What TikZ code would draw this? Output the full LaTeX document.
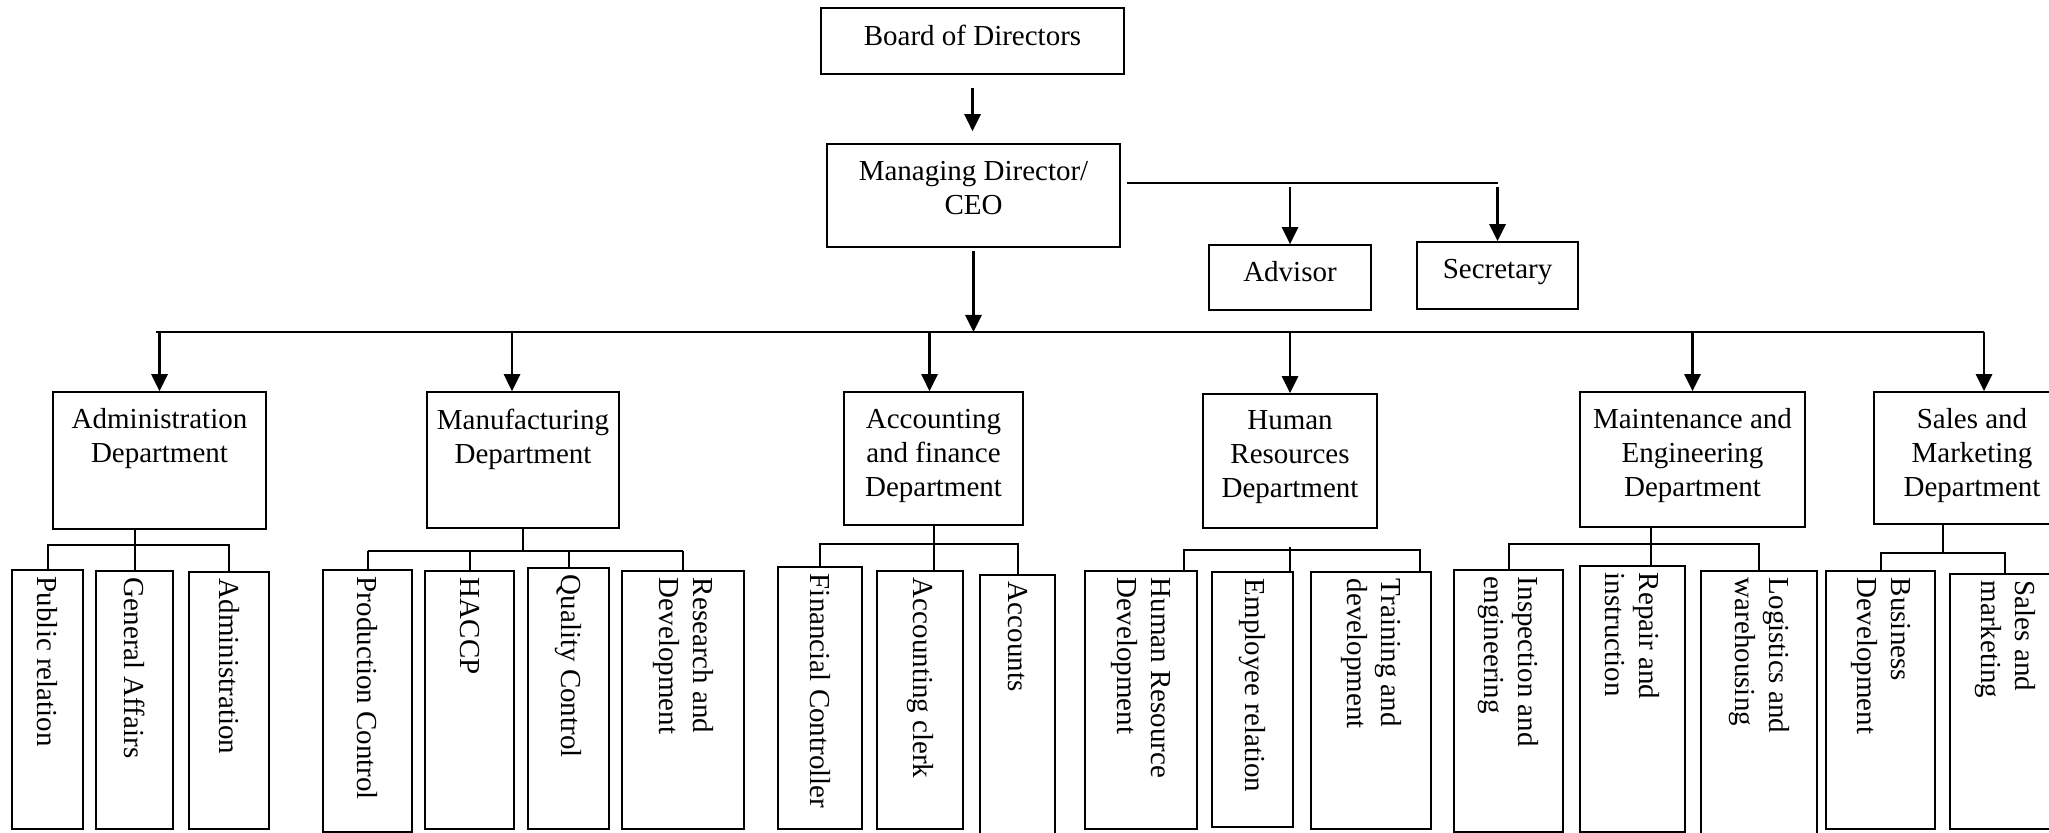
\documentclass[tikz,border=0pt]{standalone}
\usepackage{fontspec}
\setmainfont{Liberation Serif}
\usetikzlibrary{arrows.meta,calc}
\begin{document}
\begin{tikzpicture}[x=0.5pt, y=-0.5pt, font=\fontsize{14.5pt}{17pt}\selectfont, line width=1pt, >={Triangle[length=8.5pt,width=8pt]},
	box/.style={draw, line width=0.8pt, label={[align=center, anchor=north, yshift=-5pt]north:#1}},
	sub/.style={draw, line width=0.8pt, label={[rotate=-90, anchor=west, align=left]north:#1}},
	link/.style={->, line width=1.4pt}]
	\useasboundingbox (0,0) rectangle (2049,833);
	% top of the chart
	\node[box=Board of Directors, minimum width=151.5pt, minimum height=33pt] (board) at (972.5,41) {};
	\node[box=Managing Director/\\CEO, minimum width=146.5pt, minimum height=51.5pt] (md) at (973.5,195.5) {};
	\node[box=Advisor, minimum width=81pt, minimum height=32.5pt] (adv) at (1290,277.5) {};
	\node[box=Secretary, minimum width=80.5pt, minimum height=33.5pt] (sec) at (1497.5,275.5) {};
	\node[box=Administration\\Department, minimum width=106.5pt, minimum height=68.5pt] (admin) at (159.5,460.5) {};
	\node[box=Manufacturing\\Department, minimum width=96pt, minimum height=68pt] (mfg) at (523,460) {};
	\node[box=Accounting\\and finance\\Department, minimum width=89.5pt, minimum height=66.5pt] (acc) at (933.5,458.5) {};
	\node[box=Human\\Resources\\Department, minimum width=87pt, minimum height=67pt] (hr) at (1290,461) {};
	\node[box=Maintenance and\\Engineering\\Department, minimum width=112.5pt, minimum height=67.5pt] (maint) at (1692.5,459.5) {};
	\node[box=Sales and\\Marketing\\Department, minimum width=98pt, minimum height=66pt] (sales) at (1972,458) {};
	% units
	\node[sub=Public relation, minimum width=35.5pt, minimum height=129.5pt] (pr) at (47.5,699.5) {};
	\node[sub=General Affairs, minimum width=38.5pt, minimum height=129pt] (ga) at (134.5,700) {};
	\node[sub=Administration, minimum width=40pt, minimum height=128.5pt] (adm) at (229,700.5) {};
	\node[sub=Production Control, minimum width=44.5pt, minimum height=131pt] (pc) at (367.5,701) {};
	\node[sub=HACCP, minimum width=44.5pt, minimum height=129pt] (haccp) at (469.5,700) {};
	\node[sub=Quality Control, minimum width=40.5pt, minimum height=130.5pt] (qc) at (568.5,698.5) {};
	\node[sub=Research and\\Development, minimum width=61pt, minimum height=129pt] (rd) at (683,700) {};
	\node[sub=Financial Controller, minimum width=42pt, minimum height=131pt] (fc) at (820,698) {};
	\node[sub=Accounting clerk, minimum width=43pt, minimum height=129pt] (ac) at (920,700) {};
	\node[sub=Accounts, minimum width=37.5pt, minimum height=135pt] (acct) at (1017.5,710) {};
	\node[sub=Human Resource\\Development, minimum width=56pt, minimum height=129pt] (hrd) at (1141,700) {};
	\node[sub=Employee relation, minimum width=40.5pt, minimum height=127.5pt] (er) at (1252.5,699.5) {};
	\node[sub=Training and\\development, minimum width=60pt, minimum height=128.5pt] (td) at (1371,700.5) {};
	\node[sub=Inspection and\\engineering, minimum width=54.5pt, minimum height=131pt] (ie) at (1508.5,701) {};
	\node[sub=Repair and\\instruction, minimum width=52.5pt, minimum height=133pt] (ri) at (1632.5,699) {};
	\node[sub=Logistics and\\warehousing, minimum width=58pt, minimum height=137pt] (lw) at (1759,708) {};
	\node[sub=Business\\Development, minimum width=54.5pt, minimum height=129pt] (bd) at (1880.5,700) {};
	\node[sub=Sales and\\marketing, minimum width=55pt, minimum height=127.5pt] (sm) at (2005,701.5) {};
	\path (0,332) coordinate (top) (0,545) coordinate (ya) (0,551) coordinate (ym) (0,544) coordinate (yc)
	(0,550) coordinate (yh) (0,547) coordinate (yh0) (0,544) coordinate (ye) (0,553) coordinate (ys);
	\coordinate (side) at ([xshift=3pt,yshift=6pt]md.east);
	\coordinate (hl) at ([xshift=-7pt]hrd.north east);
	\coordinate (hrr) at ([xshift=-6pt]td.north east);
	\coordinate (mt) at ([xshift=9pt]ri.north);
	\coordinate (smid) at ($(bd.north)!0.5!(sm.north)$);
	\coordinate (bl) at ([xshift=-2pt]admin.north);
	\coordinate (br) at ([xshift=6pt]sales.north);
	% connectors
	\draw[link, shorten <=6.5pt, shorten >=6pt] (board.south) -- (board.south |- md.north);
	\draw[link, shorten <=1.5pt] (md.south) -- (md.south |- top);
	\draw (side) -- (side -| sec.north);
	\draw[link, shorten <=2pt] (side -| adv.north) -- (adv.north);
	\draw[link, shorten <=2pt] (side -| sec.north) -- (sec.north);
	\draw (bl |- top) -- (br |- top);
	\foreach \d/\s in {admin/0,mfg/-5.5,acc/-2,hr/0,maint/0,sales/6} {
		\coordinate (t) at ([xshift=\s pt]\d.north);
		\draw[link] (t |- top) -- (t);
	}
	\draw (ga.north |- admin.south) -- (ga.north);
	\draw (pr.north) |- (adm.north |- ya) -- (adm.north);
	\draw (mfg.south) -- (mfg.south |- ym);
	\draw (pc.north |- ym) -- (rd.north |- ym);
	\foreach \s in {pc,haccp,qc,rd} \draw (\s.north |- ym) -- (\s.north);
	\draw (acc.south) -- (acc.south |- ac.north);
	\draw (fc.north) |- (acct.north |- yc) -- (acct.north);
	\draw (hr.south |- yh0) -- (hr.south |- er.north);
	\draw (hl) |- (hrr |- yh) -- (hrr);
	\draw (mt |- maint.south) -- (mt);
	\draw (ie.north) |- (lw.north |- ye) -- (lw.north);
	\draw (smid |- sales.south) -- (smid |- ys);
	\draw (bd.north) |- (sm.north |- ys) -- (sm.north);
\end{tikzpicture}
\end{document}
